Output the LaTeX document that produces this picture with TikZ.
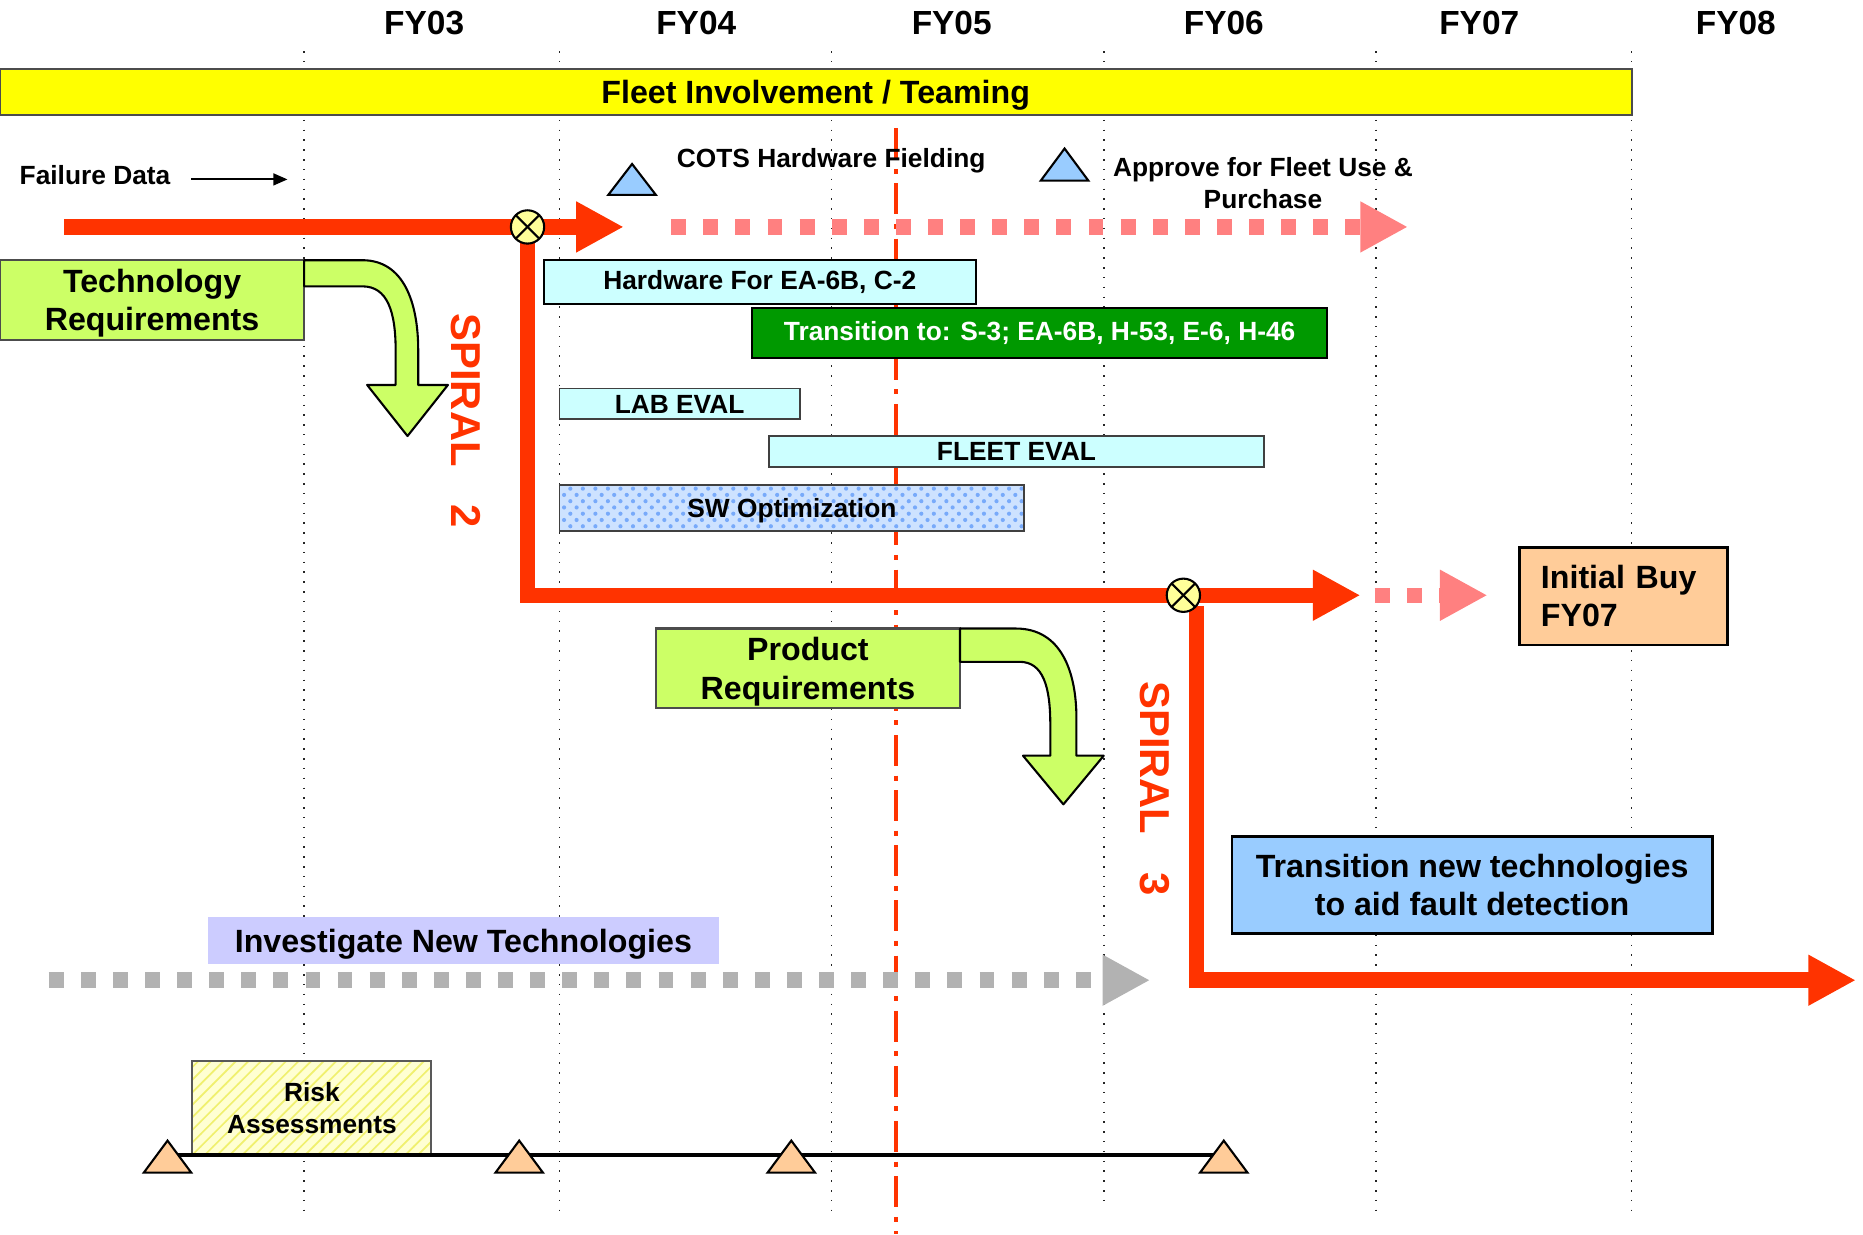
\documentclass[tikz,border=0pt]{standalone}
\usepackage{fontspec}
\setmainfont{Liberation Sans}
\usetikzlibrary{arrows.meta,patterns}
\definecolor{spiralred}{RGB}{255,51,0}
\definecolor{fadedred}{RGB}{255,128,128}
\definecolor{fleetyellow}{RGB}{255,255,0}
\definecolor{reqlime}{RGB}{204,255,102}
\definecolor{evalcyan}{RGB}{204,255,255}
\definecolor{transgreen}{RGB}{0,153,0}
\definecolor{skyblue}{RGB}{153,204,255}
\definecolor{swbase}{RGB}{205,226,255}
\definecolor{swdots}{RGB}{120,170,250}
\definecolor{investblue}{RGB}{204,204,255}
\definecolor{peach}{RGB}{255,204,153}
\definecolor{paleyellow}{RGB}{255,255,153}
\definecolor{riskbase}{RGB}{255,255,210}
\definecolor{riskline}{RGB}{240,240,110}

\begin{document}
\begin{tikzpicture}[x=0.01cm, y=-0.01cm,
  smallfont/.style={font=\fontsize{6.3}{7.7}\selectfont\bfseries},
  bigfont/.style={font=\fontsize{7.7}{9.1}\selectfont\bfseries},
  gridline/.style={dotted, line width=0.35pt, black!85},
  bar/.style={draw=black!75, line width=0.45pt, inner sep=0pt, align=center, smallfont},
  reqbox/.style={draw=black!70, line width=0.5pt, fill=reqlime, inner sep=0pt, text depth=0pt,
                 align=center, bigfont, minimum width=2.56cm, minimum height=0.67cm},
  reqarrow/.style={draw=black, line width=0.5pt, fill=reqlime, line join=round},
  redarr/.style={draw=spiralred, line width=3.7pt, line join=miter,
                 -{Triangle[length=0.4cm, width=0.4cm]}},
  fadedarr/.style={line width=3.7pt, dash pattern=on 0.125cm off 0.145cm,
                 -{Triangle[length=0.4cm, width=0.4cm]}},
  xmark/.style={circle, draw, line width=0.5pt, fill=paleyellow, minimum size=0.28cm,
                inner sep=0pt, path picture={
                  \draw[line width=0.5pt] (path picture bounding box.north west) -- (path picture bounding box.south east);
                  \draw[line width=0.5pt] (path picture bounding box.north east) -- (path picture bounding box.south west);}},
  milestone/.style={draw, line width=0.5pt, line join=miter},
  spiral/.style={spiralred, rotate=-90, font=\fontsize{10}{12}\selectfont\bfseries},
]
\useasboundingbox (0,0) rectangle (1568,1039);

% fiscal years and grid
\foreach \x/\fy in {357/FY03, 586/FY04, 801/FY05, 1030/FY06, 1245/FY07, 1461/FY08}
  \node[font=\fontsize{8}{9.6}\selectfont\bfseries] (\fy) at (\x,19) {\fy};
\foreach \x/\y in {256/1025, 471/1025, 700/1025, 929/1012, 1158/1025, 1373/1025}
  \draw[gridline] (\x,43) -- (\x,\y);
\draw[spiralred, line width=0.85pt, dash pattern=on 7.4pt off 2.3pt on 1.2pt off 2.3pt]
  (754,108) -- (754,1039);

% fleet involvement
\node[draw=black!70, line width=0.5pt, fill=fleetyellow, minimum width=13.73cm,
      minimum height=0.39cm, inner sep=0pt, text depth=0pt, bigfont] (fleet) at (686.5,77.5)
      {Fleet Involvement / Teaming};

% failure data and milestones
\node[smallfont] (fail) at (80,147) {Failure Data};
\coordinate (fd1) at (161,151);
\coordinate (fd2) at (242,151);
\draw[line width=0.5pt, -{Triangle[length=0.12cm, width=0.1cm]}] (fd1) -- (fd2);
\draw[milestone, fill=skyblue] (512,164) -- (532,138) -- (552,164) -- cycle;
\node[smallfont, anchor=west, inner xsep=0pt] (cots) at (569,135) {COTS Hardware Fielding};
\draw[milestone, fill=skyblue] (876,152) -- (896,125) -- (916,152) -- cycle;
\node[smallfont, align=center] (approve) at (1063,154) {Approve for Fleet Use \&\\Purchase};

% spiral lines
\coordinate (s1) at (54,191);
\coordinate (j1) at (444,191);
\coordinate (e1) at (525,191);
\coordinate (f1) at (565,191);
\coordinate (g1) at (1185,191);
\coordinate (c2) at (444,501);
\coordinate (j2) at (996,501);
\coordinate (e2) at (1145,501);
\coordinate (f2) at (1157,501);
\coordinate (g2) at (1252,501);
\coordinate (s3) at (1007,510);
\coordinate (c3) at (1007,825);
\coordinate (e3) at (1562,825);
\draw[fadedarr, draw=fadedred] (f1) -- (g1);
\draw[fadedarr, draw=fadedred] (f2) -- (g2);
\draw[redarr] (s1) -- (e1);
\draw[redarr] (j1) -- (c2) -- (e2);
\draw[redarr] (s3) -- (c3) -- (e3);
\node[xmark] (x1) at (j1) {};
\node[xmark] (x2) at (j2) {};

% spiral 2 activities
\node[bar, fill=evalcyan, draw=black, minimum width=3.63cm, minimum height=0.37cm] (hw)
  at (639.5,237.5) {Hardware For EA-6B, C-2};
\node[bar, fill=transgreen, draw=black, text=white, minimum width=4.84cm, minimum height=0.42cm] (trans)
  at (875,280) {Transition to: S-3; EA-6B, H-53, E-6, H-46};
\node[bar, fill=evalcyan, minimum width=2.02cm, minimum height=0.26cm] (lab)
  at (572,340) {LAB EVAL};
\node[bar, fill=evalcyan, minimum width=4.17cm, minimum height=0.26cm] (fleeteval)
  at (855.5,380) {FLEET EVAL};
\node[bar, preaction={fill=swbase}, pattern=crosshatch dots, pattern color=swdots, text depth=0pt,
      minimum width=3.91cm, minimum height=0.39cm] (sw)
  at (666.5,427.5) {SW Optimization};

% requirements feeding each spiral
\node[reqbox] (techreq) at (128,252.5) {Technology\\Requirements};
\draw[reqarrow] (256,219) -- (305,219) .. controls (340,219) and (352,255) .. (352,295)
  -- (352,324) -- (377,324) -- (343,367) -- (309,324) -- (333,324) -- (333,295)
  .. controls (333,262) and (326,241) .. (305,241) -- (256,241) -- cycle;
\node[reqbox] (prodreq) at (680,562.5) {Product\\Requirements};
\draw[reqarrow] (808,529) -- (855,529) .. controls (893,529) and (906,565) .. (906,605)
  -- (906,636) -- (929,636) -- (895,677) -- (861,636) -- (884,636) -- (884,610)
  .. controls (884,578) and (878,557) .. (858,557) -- (808,557) -- cycle;
\node[spiral] (sp2) at (392,354) {SPIRAL\hspace{9pt}2};
\node[spiral] (sp3) at (972,663.5) {SPIRAL\hspace{9pt}3};

% outcomes
\node[draw=black, line width=0.6pt, fill=peach, bigfont, align=left, text width=1.39cm,
      inner xsep=0.18cm, inner ysep=0pt, minimum height=0.82cm] (buy)
  at (1366.5,502) {Initial Buy\\FY07};
\node[draw=black, line width=0.7pt, fill=skyblue, bigfont, align=center, inner sep=0pt,
      minimum width=4.04cm, minimum height=0.82cm] (newtech)
  at (1239,745) {Transition new technologies\\to aid fault detection};

% technology investigation
\node[fill=investblue, bigfont, inner sep=0pt, text depth=0pt, minimum width=4.30cm, minimum height=0.39cm] (invest)
  at (390,791.5) {Investigate New Technologies};
\coordinate (i1) at (41,825);
\coordinate (i2) at (968,825);
\draw[fadedarr, draw=black!30] (i1) -- (i2);

% risk assessments
\node[bar, draw=black!65, preaction={fill=riskbase}, pattern=north east lines, pattern color=riskline,
      minimum width=2.01cm, minimum height=0.79cm] (risk)
  at (262.5,932.5) {Risk\\Assessments};
\foreach \x [count=\i] in {141,437,666,1030}
  \coordinate (ms\i) at (\x,972);
\draw[line width=0.8pt] (ms1) -- (ms4);
\foreach \i in {1,...,4}
  \draw[milestone, fill=peach] ([shift={(-20,15)}]ms\i) -- ([shift={(0,-12)}]ms\i)
    -- ([shift={(20,15)}]ms\i) -- cycle;
\end{tikzpicture}
\end{document}
